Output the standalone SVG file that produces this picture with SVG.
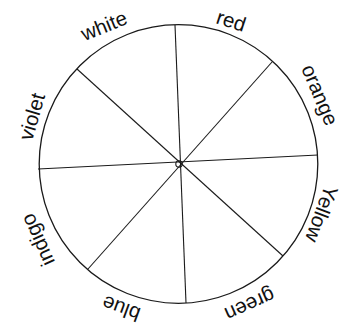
<svg xmlns="http://www.w3.org/2000/svg" width="352" height="332" viewBox="0 0 352 332">
<style>
.ring{fill:none;stroke:#1a1a1a;stroke-width:1.3}
.spoke{stroke:#1a1a1a;stroke-width:1.1;fill:none}
.lbl{font-family:"Liberation Sans",Arial,Helvetica,sans-serif;font-size:20.5px;fill:#111;text-anchor:middle}
</style>
<rect width="352" height="332" fill="#fff"/>
<g id="wheel">
<circle class="ring" cx="178.5" cy="164" r="139.3"/>
</g>
<g id="connectors">
<line class="spoke" x1="175" y1="25" x2="186" y2="303"/>
<line class="spoke" x1="38" y1="169" x2="318" y2="155"/>
<line class="spoke" x1="272" y1="62" x2="88" y2="269"/>
<line class="spoke" x1="77" y1="69" x2="283" y2="256"/>
<circle class="spoke" cx="179" cy="164" r="3.2" fill="#fff"/>
</g>
<g id="white"><text class="lbl" transform="translate(106.7 32.3) rotate(-22)">white</text></g>
<g id="red"><text class="lbl" transform="translate(229 27.5) rotate(18)">red</text></g>
<g id="orange"><text class="lbl" transform="translate(313.5 97.6) rotate(67)">orange</text></g>
<g id="yellow"><text class="lbl" transform="translate(315 211.5) rotate(110.5)">Yellow</text></g>
<g id="green"><text class="lbl" transform="translate(247.1 298.5) rotate(156)">green</text></g>
<g id="blue"><text class="lbl" transform="translate(123.6 302.1) rotate(200)">blue</text></g>
<g id="indigo"><text class="lbl" transform="translate(44 237) rotate(246)">indigo</text></g>
<g id="violet"><text class="lbl" transform="translate(38.7 118.6) rotate(286)">violet</text></g>
</svg>
